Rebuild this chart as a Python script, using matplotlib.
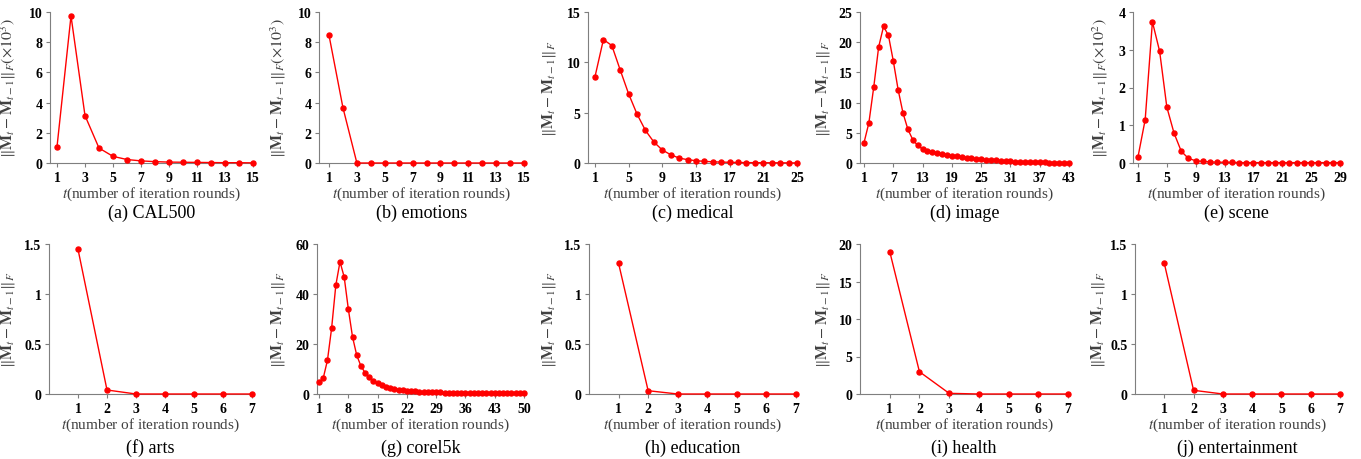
import matplotlib
matplotlib.use('Agg')
import matplotlib.pyplot as plt
import numpy as np

plt.rcParams['font.family'] = ['Liberation Serif', 'DejaVu Serif']
plt.rcParams['mathtext.fontset'] = 'stix'

# values (one list per dataset)
cal500 = [1.07, 9.74, 3.14, 0.99, 0.44, 0.23, 0.14, 0.09, 0.06, 0.05, 0.04, 0.03, 0.02, 0.02, 0.01]
emotions = [8.45, 3.66, 0, 0, 0, 0, 0, 0, 0, 0, 0, 0, 0, 0, 0]
medical = [8.57, 12.26, 11.67, 9.23, 6.86, 4.85, 3.23, 2.08, 1.29, 0.82, 0.49, 0.33, 0.23,
           0.16, 0.12, 0.09, 0.07, 0.05, 0.04, 0.03, 0.03, 0.02, 0.02, 0.01, 0.01]
image = [3.35, 6.65, 12.6, 19.2, 22.6, 21.15, 16.9, 12.1, 8.24, 5.55, 3.85, 2.9, 2.3, 2.03,
         1.8, 1.65, 1.48, 1.35, 1.2, 1.1, 0.98, 0.88, 0.78, 0.7, 0.62, 0.55, 0.48, 0.42,
         0.37, 0.32, 0.28, 0.24, 0.21, 0.18, 0.15, 0.13, 0.11, 0.09, 0.08, 0.07, 0.06, 0.05, 0.04]
scene = [0.16, 1.15, 3.74, 2.96, 1.48, 0.79, 0.31, 0.12, 0.06, 0.04, 0.03, 0.02, 0.02, 0.02,
         0.01, 0.01, 0.01, 0.01, 0.01, 0.01, 0.01, 0.01, 0.01, 0.01, 0.01, 0.01, 0.01, 0.01, 0.01]
arts = [1.447, 0.04, 0, 0, 0, 0, 0]
corel5k = [4.7, 6.4, 13.5, 26.4, 43.5, 52.9, 46.8, 33.9, 22.8, 15.5, 11.2, 8.5, 6.7, 5.2, 4.3,
           3.6, 3.0, 2.5, 2.1, 1.8, 1.55, 1.35, 1.2, 1.05, 0.95, 0.85, 0.78, 0.72, 0.66, 0.61,
           0.57, 0.53, 0.5, 0.47, 0.45, 0.43, 0.41, 0.4, 0.38, 0.37, 0.36, 0.35, 0.34, 0.33,
           0.33, 0.32, 0.31, 0.31, 0.3, 0.3]
education = [1.307, 0.033, 0, 0, 0, 0, 0]
health = [19.0, 2.97, 0.09, 0, 0, 0, 0]
entertainment = [1.307, 0.037, 0, 0, 0, 0, 0]

norm = r'$\|\mathbf{M}_t-\mathbf{M}_{t-1}\|_F$'
panels = [
    # data, title, ylabel suffix, xticks, yticks, xmin
    (cal500, '(a) CAL500', r'$(\times10^3)$', np.arange(1, 16, 2), np.arange(0, 11, 2), 0.5),
    (emotions, '(b) emotions', r'$(\times10^3)$', np.arange(1, 16, 2), np.arange(0, 11, 2), 0.28),
    (medical, '(c) medical', '', np.arange(1, 26, 4), [0, 5, 10, 15], 0.17),
    (image, '(d) image', '', np.arange(1, 44, 6), np.arange(0, 26, 5), 0.18),
    (scene, '(e) scene', r'$(\times10^2)$', np.arange(1, 30, 4), np.arange(0, 5), 0.31),
    (arts, '(f) arts', '', np.arange(1, 8), [0, 0.5, 1, 1.5], 0),
    (corel5k, '(g) corel5k', '', np.arange(1, 51, 7), [0, 20, 40, 60], 0.5),
    (education, '(h) education', '', np.arange(1, 8), [0, 0.5, 1, 1.5], 0),
    (health, '(i) health', '', np.arange(1, 8), [0, 5, 10, 15, 20], 0),
    (entertainment, '(j) entertainment', '', np.arange(1, 8), [0, 0.5, 1, 1.5], 0),
]

W, H = 1361, 460
lefts = [50, 319, 588, 860, 1133, 49, 317, 589, 860, 1135]
rights = [253, 524, 797, 1069, 1340, 252, 524, 796, 1068, 1340]
tops = [13, 245]
bottoms = [164, 395]
ylab_x = [18, 288, 558, 832, 1110, 17, 287, 558, 832, 1107]

fig = plt.figure(figsize=(W / 100, H / 100), dpi=100)
gray = '#7f7f7f'

for i, (vals, title, suffix, xt, yt, xmin) in enumerate(panels):
    r = i // 5
    l, rt = lefts[i], rights[i]
    ax = fig.add_axes([l / W, 1 - bottoms[r] / H, (rt - l) / W, (bottoms[r] - tops[r]) / H])
    x = np.arange(1, len(vals) + 1)
    ax.plot(x, vals, color='red', lw=1, marker='o', ms=3.6, clip_on=False, zorder=3)
    ax.set_xlim(xmin, len(vals))
    ax.set_ylim(0, yt[-1])
    ax.set_xticks(xt)
    ax.set_yticks(yt)
    ax.set_yticklabels(['%g' % v for v in yt])
    for s in ['top', 'right']:
        ax.spines[s].set_visible(False)
    for s in ['left', 'bottom']:
        ax.spines[s].set_color(gray)
        ax.spines[s].set_linewidth(0.8)
    ax.tick_params(direction='out', length=3, width=0.8, color=gray,
                   labelsize=10, pad=2.5)
    for lab in ax.get_xticklabels() + ax.get_yticklabels():
        lab.set_fontweight('bold')
    ax.set_ylabel(norm + suffix, fontsize=11.5, color='#404040')
    ax.yaxis.set_label_coords((ylab_x[i] - l) / (rt - l), 0.5)
    ax.set_xlabel(r'$t$(number of iteration rounds)', fontsize=11, color='#404040')
    ax.xaxis.set_label_coords(0.5, -30 / (bottoms[r] - tops[r]))
    ax.xaxis.label.set_va('center')
    off = 49 if r == 0 else 53
    ax.text(0.5, -off / (bottoms[r] - tops[r]), title, transform=ax.transAxes,
            ha='center', va='center', fontsize=13)

fig.savefig('out.png', dpi=100)
